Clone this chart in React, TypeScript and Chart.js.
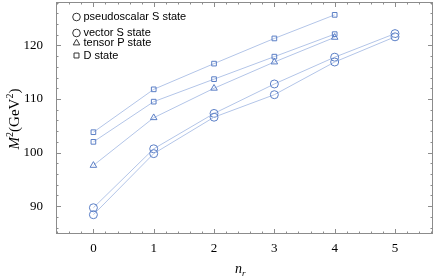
import React, { useEffect, useRef } from "react";
import { Chart, registerables } from "chart.js";

Chart.register(...registerables);

const nr = [0, 1, 2, 3, 4, 5];
const pseudoscalarS = [88.4, 99.8, 106.6, 110.8, 116.9, 121.6];
const vectorS = [89.7, 100.7, 107.3, 112.8, 117.8, 122.2];
const tensorP = [97.6, 106.5, 112.0, 116.9, 121.5];
const dStateA = [103.8, 111.8, 116.6, 121.3, 125.7];
const dStateB = [102.0, 109.5, 113.7, 117.9, 122.1];

const xTickLabels = [0, 1, 2, 3, 4, 5];
const yTickLabels = [90, 100, 110, 120];

const legendItems = [
  { label: "pseudoscalar S state", shape: "circle" },
  { label: "vector S state", shape: "circle" },
  { label: "tensor P state", shape: "triangle" },
  { label: "D state", shape: "rect" },
];

const MARK = "#5b7fc6";
const LINE = "#b3c5e8";
const FRAME = "#8c8c8c";

const toPts = (ys: number[]) => ys.map((y, i) => ({ x: nr[i], y }));

function drawShape(ctx: CanvasRenderingContext2D, shape: string, x: number, y: number, r: number) {
  ctx.beginPath();
  if (shape === "circle") {
    ctx.arc(x, y, r, 0, Math.PI * 2);
  } else if (shape === "triangle") {
    ctx.moveTo(x, y - r);
    ctx.lineTo(x + r * 0.866, y + r * 0.5);
    ctx.lineTo(x - r * 0.866, y + r * 0.5);
    ctx.closePath();
  } else {
    const s = r * 0.75;
    ctx.rect(x - s, y - s, 2 * s, 2 * s);
  }
  ctx.stroke();
}

const framePlugin = {
  id: "framePlugin",
  afterDraw(chart: any) {
    const ctx: CanvasRenderingContext2D = chart.ctx;
    const { left, right, top, bottom } = chart.chartArea;
    const xs = chart.scales.x;
    const ys = chart.scales.y;
    ctx.save();
    ctx.strokeStyle = FRAME;
    ctx.lineWidth = 1;
    ctx.strokeRect(left + 0.5, top + 0.5, right - left - 1, bottom - top - 1);
    ctx.beginPath();
    for (let i = -3; i <= 28; i++) {
      const v = i * 0.2;
      if (v < xs.min || v > xs.max) continue;
      const major = i % 5 === 0;
      const len = major ? 5 : 2.5;
      const px = Math.round(xs.getPixelForValue(v)) + 0.5;
      ctx.moveTo(px, bottom);
      ctx.lineTo(px, bottom - len);
      ctx.moveTo(px, top);
      ctx.lineTo(px, top + len);
    }
    for (let v = 86; v <= 128; v += 2) {
      if (v < ys.min || v > ys.max) continue;
      const major = v % 10 === 0;
      const len = major ? 5 : 2.5;
      const py = Math.round(ys.getPixelForValue(v)) + 0.5;
      ctx.moveTo(left, py);
      ctx.lineTo(left + len, py);
      ctx.moveTo(right, py);
      ctx.lineTo(right - len, py);
    }
    ctx.stroke();

    // y title
    ctx.fillStyle = "#000";
    ctx.textBaseline = "alphabetic";
    const big = "15px 'Liberation Serif', serif";
    const bigIt = "italic 15px 'Liberation Serif', serif";
    const sup = "10px 'Liberation Serif', serif";
    const parts = [
      { t: "M", f: bigIt, dy: 0 },
      { t: "2", f: sup, dy: -6 },
      { t: "(GeV", f: big, dy: 0 },
      { t: "2", f: sup, dy: -6 },
      { t: ")", f: big, dy: 0 },
    ];
    let total = 0;
    for (const p of parts) {
      ctx.font = p.f;
      total += ctx.measureText(p.t).width;
    }
    ctx.save();
    ctx.translate(19, 119);
    ctx.rotate(-Math.PI / 2);
    let cx = -total / 2;
    for (const p of parts) {
      ctx.font = p.f;
      ctx.fillText(p.t, cx, p.dy);
      cx += ctx.measureText(p.t).width;
    }
    ctx.restore();

    // x title
    ctx.font = "italic 14px 'Liberation Serif', serif";
    const nw = ctx.measureText("n").width;
    ctx.fillText("n", 235, 273);
    ctx.font = "italic 9px 'Liberation Serif', serif";
    ctx.fillText("r", 235 + nw, 276);

    // legend
    ctx.font = "11px 'Liberation Sans', Arial, sans-serif";
    ctx.textBaseline = "middle";
    const ly = [17, 33, 43, 55.5];
    legendItems.forEach((it, i) => {
      ctx.strokeStyle = "#333";
      ctx.lineWidth = 1;
      drawShape(ctx, it.shape, 76.5, ly[i], it.shape === "rect" ? 3.3 : 3.8);
      ctx.fillStyle = "#000";
      ctx.fillText(it.label, 83.5, ly[i]);
    });
    ctx.restore();
  },
};

export default function App() {
  const ref = useRef<HTMLCanvasElement>(null);
  useEffect(() => {
    document.body.style.margin = "0";
    const ds = (label: string, data: number[], style: string, r: number) => ({
      label,
      data: toPts(data),
      showLine: true,
      borderColor: LINE,
      borderWidth: 1,
      pointStyle: style,
      pointRadius: r,
      pointBorderColor: MARK,
      pointBackgroundColor: "rgba(0,0,0,0)",
      pointBorderWidth: 1,
    });
    const chart = new Chart(ref.current!, {
      type: "scatter",
      data: {
        datasets: [
          ds("pseudoscalar S state", pseudoscalarS, "circle", 4),
          ds("vector S state", vectorS, "circle", 4),
          ds("tensor P state", tensorP, "triangle", 3.8),
          ds("D state", dStateA, "rect", 3.3),
          ds("D state", dStateB, "rect", 3.3),
        ],
      },
      options: {
        animation: false,
        responsive: false,
        devicePixelRatio: 1,
        layout: { autoPadding: false, padding: { top: 2, right: 3, left: 0, bottom: 0 } },
        plugins: { legend: { display: false }, tooltip: { enabled: false } },
        scales: {
          x: {
            type: "linear",
            min: -0.62,
            max: 5.63,
            grid: { display: false },
            border: { display: false },
            afterBuildTicks: (s: any) => {
              s.ticks = xTickLabels.map((v) => ({ value: v }));
            },
            afterFit: (s: any) => {
              s.height = 44;
              s.paddingLeft = 0;
              s.paddingRight = 0;
            },
            ticks: {
              padding: -1,
              color: "#000",
              font: { family: "'Liberation Serif', serif", size: 13 },
              maxRotation: 0,
              autoSkip: false,
            },
          },
          y: {
            type: "linear",
            min: 84.8,
            max: 128.1,
            grid: { display: false },
            border: { display: false },
            afterBuildTicks: (s: any) => {
              s.ticks = yTickLabels.map((v) => ({ value: v }));
            },
            afterFit: (s: any) => {
              s.width = 56;
              s.paddingTop = 0;
              s.paddingBottom = 0;
            },
            ticks: {
              padding: 5,
              color: "#000",
              font: { family: "'Liberation Serif', serif", size: 13 },
              autoSkip: false,
            },
          },
        },
      },
      plugins: [framePlugin],
    } as any);
    return () => chart.destroy();
  }, []);
  return (
    <div style={{ width: 436, height: 278 }}>
      <canvas ref={ref} width={436} height={278} style={{ display: "block" }} />
    </div>
  );
}
